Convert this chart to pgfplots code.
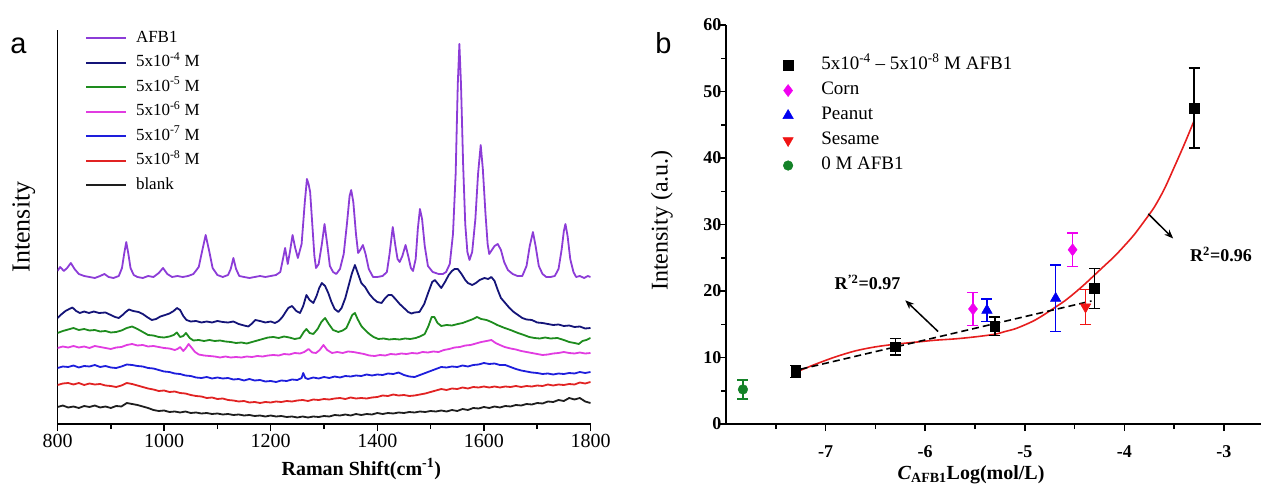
\documentclass[border=0pt]{standalone}
\usepackage{fontspec}
\setmainfont{Liberation Serif}
\newfontfamily\arialfont{Liberation Sans}
\usepackage{pgfplots}
\pgfplotsset{compat=1.18}
\usetikzlibrary{arrows.meta}

% spectra colours (panel a)
\definecolor{cafb}{RGB}{140,60,215}
\definecolor{cfour}{RGB}{20,20,120}
\definecolor{cfive}{RGB}{30,140,30}
\definecolor{csix}{RGB}{225,60,225}
\definecolor{cseven}{RGB}{30,30,220}
\definecolor{ceight}{RGB}{225,35,35}
\definecolor{cblank}{RGB}{30,30,30}
% marker colours (panel b)
\definecolor{mcorn}{RGB}{240,0,240}
\definecolor{mpeanut}{RGB}{0,0,240}
\definecolor{msesame}{RGB}{240,20,20}
\definecolor{mzero}{RGB}{20,130,40}
\definecolor{fitred}{RGB}{230,30,30}

\pgfplotsset{
  panelaxis/.style={
    scale only axis,
    anchor=south west,
    axis x line*=bottom, axis y line*=left,
    axis line style={line width=1.5bp, black},
    tick style={line width=1.5bp, black},
    tick align=outside,
    major tick length=7bp, minor tick length=5bp,
    /pgf/number format/assume math mode=true,
    /pgf/number format/1000 sep={},
  },
  spec/.style={line width=1.8bp, line join=round},
}

\begin{document}
\begin{tikzpicture}
\useasboundingbox (0,0) rectangle (1261bp,487bp);
\node[font=\arialfont\fontsize{29bp}{30bp}\selectfont] at (18.5bp,441bp) {a};
\node[font=\arialfont\fontsize{29bp}{30bp}\selectfont] at (663.5bp,444bp) {b};

%% ---------------- panel a: Raman spectra ----------------
\begin{axis}[panelaxis,
  at={(57.5bp,63bp)}, width=533bp, height=394bp,
  xmin=800, xmax=1800, ymin=0, ymax=394,
  xtick={800,1000,...,1800}, minor xtick={900,1100,...,1700},
  ytick=\empty,
  xticklabel style={font=\fontsize{20bp}{22bp}\selectfont},
  xlabel={\textbf{Raman Shift(cm\textsuperscript{-1})}},
  xlabel style={at={(axis description cs:0.57,-0.114)}, anchor=center, font=\fontsize{20bp}{22bp}\selectfont},
  ylabel={Intensity},
  ylabel style={at={(axis description cs:-0.063,0.50)}, anchor=center, font=\fontsize{26bp}{28bp}\selectfont},
  legend style={at={(axis description cs:0.0516,1.005)}, anchor=north west,
    draw=none, fill=none, inner sep=0bp, row sep=4.5bp,
    font=\fontsize{17bp}{19bp}\selectfont,
    nodes={inner sep=2bp, text height=12bp, text depth=4bp},
    /tikz/every odd column/.append style={column sep=7bp}},
  legend cell align=left,
  legend image code/.code={\draw[#1, line width=1.8bp] (0bp,0bp) -- (40bp,0bp);},
]
\addplot[cafb, spec] coordinates {
(800,153) (805,157) (812,153) (818,156) (825,161) (832,155) (840,150) (850,148) (860,147) (870,146)
(880,148) (888,150) (896,147) (905,146) (915,148) (921,156) (925,170) (929,182) (933,170) (937,156)
(943,149) (950,147) (960,146) (970,148) (980,147) (990,151) (998,156) (1006,150) (1015,147) (1025,148)
(1035,147) (1045,148) (1055,150) (1065,157) (1071,172) (1078,189) (1085,172) (1091,156) (1100,149) (1110,147)
(1120,149) (1125,155) (1130,166) (1135,155) (1141,148) (1150,147) (1160,146) (1170,147) (1180,148) (1190,147)
(1200,148) (1210,149) (1218,152) (1223,165) (1227,176) (1232,160) (1236,172) (1241,189) (1246,176) (1251,166)
(1258,180) (1264,222) (1268,245) (1271,240) (1274,232) (1278,200) (1282,168) (1285,156) (1290,160) (1296,180)
(1301,200) (1306,180) (1311,158) (1317,152) (1323,150) (1330,155) (1337,170) (1343,200) (1348,228) (1351,234)
(1355,222) (1360,190) (1364,171) (1368,174) (1373,179) (1378,170) (1384,155) (1392,147) (1400,147) (1410,148)
(1418,152) (1423,170) (1429,197) (1434,178) (1438,165) (1442,162) (1447,168) (1453,179) (1458,168) (1463,156)
(1467,153) (1472,165) (1476,195) (1480,215) (1484,205) (1489,178) (1495,158) (1504,152) (1515,150) (1523,150)
(1529,152) (1536,160) (1542,190) (1547,250) (1551,340) (1554,380) (1557,340) (1561,260) (1565,200) (1569,172)
(1573,164) (1578,172) (1584,205) (1589,250) (1594,279) (1598,255) (1603,210) (1607,180) (1610,170) (1615,174)
(1620,178) (1626,180) (1632,174) (1638,162) (1645,154) (1654,150) (1663,148) (1672,148) (1680,158) (1686,178)
(1692,192) (1697,178) (1703,158) (1710,150) (1717,147) (1725,147) (1733,148) (1740,155) (1746,175) (1750,193)
(1753,200) (1757,188) (1762,165) (1768,152) (1773,147) (1780,148) (1788,146) (1795,148) (1800,147)
};
\addplot[cfour, spec] coordinates {
(800,106) (808,110) (815,113) (822,115) (828,116.5) (835,113) (842,111) (850,112.5) (859,111) (868,112.5)
(878,111) (890,111.5) (900,109) (908,107) (915,106) (922,109) (928,112) (934,114.5) (942,113) (952,112)
(960,110) (968,107) (977,104) (985,105) (993,107.5) (1002,109) (1010,110.5) (1018,113) (1024,116) (1030,114)
(1036,108) (1042,104) (1050,102.5) (1060,103) (1070,101.5) (1080,102.5) (1090,101.5) (1100,103) (1110,102) (1120,101.5)
(1130,102.5) (1140,100) (1150,98.5) (1158,97.5) (1165,100.5) (1171,104) (1180,103) (1190,101.5) (1200,102.5) (1208,101)
(1215,103) (1222,107) (1228,112) (1233,116) (1240,118) (1248,113) (1255,111) (1261,118) (1267,129) (1273,124)
(1280,121) (1286,128) (1291,136) (1296,141) (1302,138) (1308,131) (1314,122) (1320,115) (1327,112) (1333,116)
(1340,126) (1346,138) (1352,150) (1358,159) (1364,150) (1370,141) (1377,137) (1385,130) (1393,125) (1400,122)
(1408,121) (1415,126) (1421,129) (1427,129) (1434,125) (1442,120) (1450,116) (1458,112) (1464,110.5) (1470,111.5)
(1479,112) (1488,120) (1496,132) (1503,142) (1508,144) (1514,140) (1520,136) (1527,142) (1534,149) (1540,153)
(1545,155) (1551,155) (1558,150) (1565,144) (1570,141) (1578,139) (1585,141) (1592,144) (1601,146) (1608,145)
(1614,147) (1620,143) (1626,134) (1632,126) (1640,121) (1648,116) (1656,112) (1664,109) (1672,106) (1680,104.5)
(1690,104) (1700,101.5) (1710,101) (1720,100) (1730,99) (1740,99.5) (1750,98) (1760,98.5) (1770,97) (1780,97.5)
(1790,95.5) (1800,96)
};
\addplot[cfive, spec] coordinates {
(800,91) (810,93) (820,94.5) (830,96) (840,94) (850,95) (860,93.5) (870,94) (880,92.5) (890,93)
(900,91.5) (910,92) (920,93.5) (930,96) (940,97.5) (950,95) (960,92) (970,89) (980,88.5) (990,87)
(1000,86.5) (1010,87.5) (1018,89) (1024,91.5) (1030,87) (1036,88) (1041,91) (1048,86) (1055,83.5) (1065,84)
(1075,83) (1085,84) (1095,83) (1105,83.5) (1115,82.5) (1125,82) (1135,81) (1145,81.5) (1155,80.5) (1165,82)
(1175,83.5) (1185,85) (1195,86.5) (1205,87) (1215,86) (1225,87.5) (1235,86.5) (1245,85) (1255,86) (1262,92)
(1267,95) (1273,91) (1280,90) (1288,95) (1295,102) (1302,106) (1309,100) (1317,94) (1327,92) (1335,93.5)
(1342,96) (1348,103) (1353,109) (1358,111) (1363,105) (1370,98) (1377,94) (1385,90) (1393,87) (1402,85)
(1412,85.5) (1422,84.5) (1432,85) (1442,84.5) (1452,85.5) (1462,85) (1472,86) (1480,87.5) (1489,90) (1496,98)
(1502,107) (1507,107) (1513,101) (1520,98) (1530,99) (1540,98.5) (1551,100) (1560,101) (1570,103) (1580,105)
(1587,107) (1595,105) (1605,104) (1614,102) (1625,99) (1639,96) (1650,94) (1664,91) (1675,89) (1685,87)
(1695,86) (1705,85.5) (1715,86.5) (1725,85.5) (1738,86) (1750,84) (1760,82) (1770,81) (1778,80) (1785,83)
(1792,84) (1800,86)
};
\addplot[csix, spec] coordinates {
(800,76) (810,77.5) (820,76.5) (830,78) (840,76.5) (850,77.5) (860,76) (870,78) (880,77) (890,76)
(900,75) (910,76.5) (920,77) (930,79) (940,80) (950,78.5) (960,79) (970,77.5) (980,78) (990,77)
(1000,76) (1010,75.5) (1020,74) (1025,75) (1030,77) (1036,73) (1041,76) (1046,80) (1052,76) (1058,72)
(1065,69.5) (1075,68.5) (1085,68) (1095,67.5) (1105,66.5) (1115,67.5) (1125,66.5) (1135,67) (1145,66.5) (1155,67.5)
(1165,67) (1175,68) (1185,67.5) (1195,68.5) (1205,69) (1215,68.5) (1225,70) (1235,69.5) (1245,71) (1255,70.5)
(1263,72) (1271,75) (1278,71.5) (1285,71) (1292,74) (1299,79) (1306,74) (1315,71) (1325,72) (1335,71)
(1345,72.5) (1355,72) (1365,71) (1375,70) (1385,68.5) (1395,68) (1405,69) (1415,68.5) (1425,70) (1435,69.5)
(1445,70.5) (1455,70) (1465,71) (1475,70.5) (1485,72) (1495,71.5) (1505,72.5) (1515,72) (1525,74) (1535,75)
(1545,76.5) (1555,77) (1565,78.5) (1575,79) (1585,80.5) (1595,82) (1605,83) (1614,84) (1622,81) (1630,79)
(1639,77) (1650,75.5) (1660,74.5) (1670,73) (1680,72) (1690,71) (1700,70) (1710,69) (1720,69.5) (1730,70.5)
(1740,71) (1750,72) (1760,71) (1770,70.5) (1780,71.5) (1790,70.5) (1800,71)
};
\addplot[cseven, spec] coordinates {
(800,56) (810,57.5) (820,57) (830,58.5) (840,56.5) (850,58) (860,57.5) (870,59) (880,57) (890,58)
(900,56.5) (910,56) (920,57.5) (930,59.5) (940,59) (950,58) (960,57.5) (970,56) (980,55.5) (990,54)
(1000,52.5) (1010,52) (1020,50.5) (1030,50) (1040,48.5) (1050,48) (1060,46.5) (1070,46) (1080,47) (1090,45.5)
(1100,46.5) (1110,45.5) (1120,46) (1130,44.5) (1140,45) (1150,43.5) (1160,45) (1170,43.5) (1180,44) (1190,42.5)
(1200,43) (1210,42) (1220,43.5) (1230,43) (1240,44.5) (1250,44) (1258,46) (1261,51) (1265,46) (1270,45)
(1280,46.5) (1290,45.5) (1300,47) (1310,46) (1320,47.5) (1330,46.5) (1340,48) (1350,47.5) (1360,48.5) (1370,48)
(1380,49.5) (1390,48.5) (1400,49.5) (1410,49) (1420,50.5) (1430,50) (1440,51.5) (1450,49) (1460,47.5) (1470,47)
(1480,49) (1490,51) (1500,53) (1510,55) (1520,57) (1530,56.5) (1540,57.5) (1550,57) (1560,58.5) (1570,57.5)
(1580,59) (1590,59.5) (1600,61) (1610,60) (1620,60.5) (1630,59) (1640,59) (1650,57) (1660,55) (1670,53.5)
(1680,52.5) (1690,51.5) (1700,51) (1710,50) (1720,50.5) (1730,49.5) (1740,50.5) (1750,50) (1760,51) (1770,50.5)
(1780,52) (1790,51) (1800,52)
};
\addplot[ceight, spec] coordinates {
(800,39) (810,40.5) (820,41) (830,39.5) (840,41) (850,39) (860,40.5) (870,39.5) (880,40) (890,38.5)
(900,38) (910,37) (920,38.5) (930,41) (940,40) (950,38.5) (960,37) (970,35.5) (980,34.5) (990,33)
(1000,33.5) (1010,32) (1020,32.5) (1030,31) (1040,30.5) (1050,29) (1060,28) (1070,27.5) (1080,26) (1090,26.5)
(1100,25) (1110,25.5) (1120,24) (1130,23.5) (1140,22.5) (1150,23) (1160,21.5) (1170,22) (1180,21) (1190,22)
(1200,21.5) (1210,22.5) (1220,22) (1230,23) (1240,22.5) (1250,23.5) (1260,24) (1270,23) (1280,24.5) (1290,24)
(1300,25) (1310,24.5) (1320,25.5) (1330,26) (1340,25) (1350,26.5) (1360,25.5) (1370,26) (1380,25.5) (1390,26.5)
(1400,27) (1410,28.5) (1420,28) (1430,29.5) (1440,28.5) (1450,29) (1460,28) (1470,28.5) (1480,29.5) (1490,30.5)
(1500,32) (1510,33.5) (1520,35) (1530,34) (1540,35.5) (1550,35) (1560,36.5) (1570,35.5) (1580,37) (1590,36.5)
(1600,37.5) (1610,36.5) (1620,37.5) (1630,36.5) (1640,37.5) (1650,37) (1660,38) (1670,37) (1680,38) (1690,37.5)
(1700,38.5) (1710,38) (1720,39.5) (1730,38.5) (1740,39.5) (1750,39) (1760,40) (1770,39.5) (1780,41.5) (1790,40.5)
(1800,42)
};
\addplot[cblank, spec] coordinates {
(800,17) (810,18.5) (820,16.5) (830,17.5) (840,16) (850,18) (860,17) (870,18.5) (880,16.5) (890,17.5)
(900,16) (910,18) (920,17.5) (930,21) (940,20) (950,19) (960,17.5) (970,16) (980,14) (990,13)
(1000,13.5) (1010,12) (1020,12.5) (1030,11.5) (1040,12.5) (1050,11) (1060,11.5) (1070,10.5) (1080,11) (1090,10)
(1100,10.5) (1110,9.5) (1120,10) (1130,9) (1140,9.5) (1150,8.5) (1160,9) (1170,8) (1180,8.5) (1190,7.5)
(1200,8.5) (1210,7.5) (1220,8) (1230,7) (1240,7.5) (1250,6.5) (1260,7.5) (1270,6.5) (1280,7.5) (1290,7)
(1300,8) (1310,7.5) (1320,9) (1330,8.5) (1340,9.5) (1350,8.5) (1360,10) (1370,9) (1380,10) (1390,9.5)
(1400,11) (1410,10) (1420,11) (1430,10.5) (1440,11.5) (1450,11) (1460,12) (1470,11.5) (1480,12.5) (1490,12)
(1500,13) (1510,12.5) (1520,13.5) (1530,12.5) (1540,14) (1550,13) (1560,15) (1570,14) (1580,16) (1590,15.5)
(1600,17) (1610,16) (1620,17.5) (1630,16.5) (1640,18) (1650,17.5) (1660,19) (1670,18.5) (1680,20) (1690,19.5)
(1700,21) (1710,20.5) (1720,22.5) (1730,22) (1740,24) (1750,23) (1760,26) (1770,24.5) (1780,26) (1790,22.5)
(1800,21)
};
\legend{AFB1, 5x10\textsuperscript{-4} M, 5x10\textsuperscript{-5} M, 5x10\textsuperscript{-6} M,
  5x10\textsuperscript{-7} M, 5x10\textsuperscript{-8} M, blank}
\end{axis}

%% ---------------- panel b: calibration ----------------
\begin{axis}[panelaxis,
  at={(726bp,63bp)}, width=535bp, height=399bp,
  xmin=-8, xmax=-2.628, ymin=0, ymax=60, clip=false,
  xtick={-7,-6,-5,-4,-3}, xticklabels={-7,-6,-5,-4,-3},
  minor xtick={-7.5,-6.5,-5.5,-4.5,-3.5},
  ytick={0,10,...,60}, minor ytick={5,15,...,55},
  ticklabel style={font=\fontsize{18bp}{20bp}\selectfont\bfseries},
  xticklabel style={yshift=-11bp},
  yticklabel style={xshift=6bp},
  xlabel={\textbf{\textit{C}\textsubscript{AFB1}Log(mol/L)}},
  xlabel style={at={(axis description cs:0.458,-0.128)}, anchor=center, font=\fontsize{20bp}{22bp}\selectfont},
  ylabel={Intensity (a.u.)},
  ylabel style={at={(axis description cs:-0.12,0.51)}, anchor=center, font=\fontsize{24bp}{26bp}\selectfont},
  legend style={at={(axis description cs:0.106,0.924)}, anchor=north west,
    draw=none, fill=none, inner sep=0bp, row sep=5bp,
    font=\fontsize{19bp}{21bp}\selectfont,
    nodes={inner sep=2bp, text height=12bp, text depth=4bp},
    /tikz/every odd column/.append style={column sep=13bp}},
  legend cell align=left,
  legend image code/.code={\draw[mark repeat=2,mark phase=2,#1] plot coordinates {(0bp,0bp) (8bp,0bp) (16bp,0bp)}; \path (26bp,0bp);},
]
% fitted curves
\addplot[fitred, line width=1.6bp, smooth, forget plot] coordinates {
(-7.28,7.9) (-7.1,9.0) (-6.9,10.1) (-6.7,11.0) (-6.5,11.6) (-6.3,12.0) (-6.1,12.3) (-5.9,12.6)
(-5.7,12.8) (-5.5,13.1) (-5.3,13.5) (-5.2,13.9) (-5.1,14.3) (-5.0,14.9) (-4.9,15.6) (-4.8,16.5)
(-4.7,17.5) (-4.6,18.5) (-4.5,19.7) (-4.4,21.0) (-4.3,22.4) (-4.2,23.8) (-4.1,25.2) (-4.0,26.8)
(-3.9,28.5) (-3.8,30.5) (-3.7,32.6) (-3.6,35.3) (-3.5,38.6) (-3.4,42.0) (-3.3,45.6)
};
\addplot[black, line width=1.6bp, dashed, dash pattern=on 7bp off 4bp, forget plot] coordinates {
(-7.25,8.25) (-4.33,18.5)
};
% data with error bars
\addplot[only marks, black, mark=square*, mark size=4.8bp, mark options={solid, fill=black, line width=0.5bp},
  error bars/.cd, y dir=both, y explicit,
  error bar style={line width=1.5bp}, error mark options={rotate=90, mark size=5.5bp, line width=1.5bp}]
  coordinates {(-7.3,7.9) +- (0,0.9) (-6.3,11.6) +- (0,1.25) (-5.3,14.7) +- (0,1.4) (-4.3,20.4) +- (0,3.0) (-3.3,47.5) +- (0,6.0)};
\addlegendentry{5x10\textsuperscript{-4} -- 5x10\textsuperscript{-8} M AFB1}
\addplot[only marks, mcorn, mark=diamond*, mark size=6bp, mark options={solid, fill=mcorn, line width=0.5bp},
  error bars/.cd, y dir=both, y explicit,
  error bar style={line width=1.5bp}, error mark options={rotate=90, mark size=5.5bp, line width=1.5bp}]
  coordinates {(-5.52,17.3) +- (0,2.5) (-4.52,26.2) +- (0,2.5)};
\addlegendentry{Corn}
\addplot[only marks, mpeanut, mark=triangle*, mark size=6bp, mark options={solid, fill=mpeanut, line width=0.5bp},
  error bars/.cd, y dir=both, y explicit,
  error bar style={line width=1.5bp}, error mark options={rotate=90, mark size=5.5bp, line width=1.5bp}]
  coordinates {(-5.38,17.1) +- (0,1.7) (-4.69,18.9) +- (0,5.0)};
\addlegendentry{Peanut}
\addplot[only marks, msesame, mark=triangle*, mark size=6bp, mark options={solid, rotate=180, fill=msesame, line width=0.5bp},
  error bars/.cd, y dir=both, y explicit,
  error bar style={line width=1.5bp}, error mark options={rotate=90, mark size=5.5bp, line width=1.5bp}]
  coordinates {(-4.39,17.6) +- (0,2.6)};
\addlegendentry{Sesame}
\addplot[only marks, mzero, mark=*, mark size=4.8bp, mark options={solid, fill=mzero, line width=0.5bp},
  error bars/.cd, y dir=both, y explicit,
  error bar style={line width=1.5bp}, error mark options={rotate=90, mark size=5.5bp, line width=1.5bp}]
  coordinates {(-7.83,5.2) +- (0,1.45)};
\addlegendentry{0 M AFB1}
% annotations
\draw[-{Stealth[length=9bp,width=7bp]}, line width=1.5bp] (axis cs:-5.87,13.9) -- (axis cs:-6.20,18.6);
\draw[-{Stealth[length=9bp,width=7bp]}, line width=1.5bp] (axis cs:-3.76,31.6) -- (axis cs:-3.51,27.9);
\node[font=\fontsize{18bp}{20bp}\selectfont\bfseries] at (axis cs:-6.58,21.3) {R\textsuperscript{'2}=0.97};
\node[font=\fontsize{18bp}{20bp}\selectfont\bfseries] at (axis cs:-3.03,25.5) {R\textsuperscript{2}=0.96};
\end{axis}
\end{tikzpicture}
\end{document}
